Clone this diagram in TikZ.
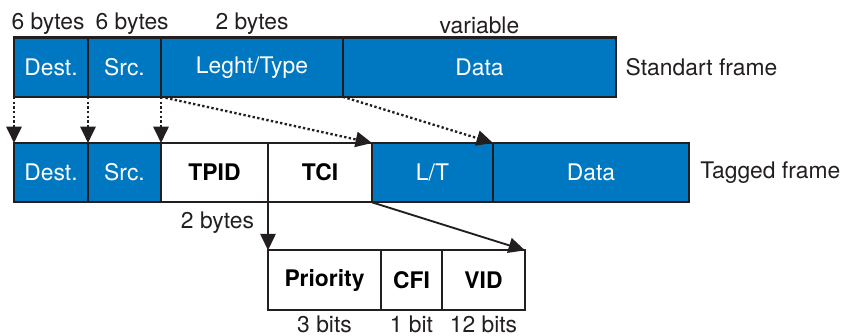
\documentclass[tikz,border=0pt]{standalone}
\usepackage{fontspec}
\setmainfont{TeX Gyre Heros}
\usetikzlibrary{positioning,arrows.meta}
\definecolor{framecol}{RGB}{0,120,193}
\definecolor{linecol}{RGB}{35,31,32}

\tikzset{
    cell/.style={draw=linecol, line width=1.8pt, outer sep=0pt, inner sep=0pt,
        minimum height=1.78cm, font=\fontsize{19.5}{22}\selectfont},
    bluecell/.style={cell, fill=framecol, text=white},
    tagcell/.style={cell, fill=white, font=\fontsize{19.5}{22}\selectfont\bfseries},
    sizelabel/.style={font=\fontsize{19.5}{22}\selectfont, text=linecol, inner sep=1pt},
    copyarrow/.style={draw=linecol, line width=2pt, dash pattern=on 2pt off 2pt,
        -{Triangle[length=14pt, width=13pt]}},
    splitarrow/.style={draw=linecol, line width=1.6pt, -{Triangle[length=14pt, width=13pt]}},
}

\begin{document}
\begin{tikzpicture}
    \useasboundingbox (0,0) rectangle (25.59,-10.08);

    % Standard frame
    \node[bluecell, minimum width=2.22cm, anchor=north west] (sdest) at (0.42,-1.125) {Dest.};
    \node[bluecell, minimum width=2.19cm, right=0pt of sdest] (ssrc) {Src.};
    \node[bluecell, minimum width=5.46cm, right=0pt of ssrc] (slen) {Leght/Type};
    \node[bluecell, minimum width=8.19cm, right=0pt of slen] (sdata) {Data};
    \node[sizelabel, right=0.25cm of sdata] (sname) {Standart frame};

    % sizes of the standard fields
    \node[sizelabel, above=0.06cm of sdest, xshift=-0.09cm] (bdest) {6 bytes};
    \node[sizelabel, above=0.06cm of ssrc, xshift=0.23cm] (bsrc) {6 bytes};
    \node[sizelabel, above=0.06cm of slen] (blen) {2 bytes};
    \node[sizelabel, above=0.06cm of sdata] (bdata) {variable};

    % Tagged frame
    \node[bluecell, minimum width=2.22cm, anchor=north west] (tdest) at (0.42,-4.29) {Dest.};
    \node[bluecell, minimum width=2.19cm, right=0pt of tdest] (tsrc) {Src.};
    \node[tagcell, minimum width=3.21cm, right=0pt of tsrc] (ttpid) {TPID};
    \node[tagcell, minimum width=3.12cm, right=0pt of ttpid] (ttci) {TCI};
    \node[bluecell, minimum width=3.63cm, right=0pt of ttci] (tlt) {L/T};
    \node[bluecell, minimum width=5.88cm, right=0pt of tlt] (tdata) {Data};
    \node[sizelabel, right=0.3cm of tdata] (tname) {Tagged frame};

    % TCI fields
    \node[tagcell, minimum width=3.39cm, anchor=north west] (prio) at ([yshift=-1.44cm]ttci.south west) {Priority};
    \node[tagcell, minimum width=1.83cm, right=0pt of prio] (cfi) {CFI};
    \node[tagcell, minimum width=2.49cm, right=0pt of cfi] (vid) {VID};

    \node[sizelabel, anchor=east] (btci) at ([xshift=-0.38cm, yshift=-0.6cm]ttci.south west) {2 bytes};
    \node[sizelabel, below=0.14cm of prio] (bprio) {3 bits};
    \node[sizelabel, below=0.14cm of cfi] (bcfi) {1 bit};
    \node[sizelabel, below=0.14cm of vid] (bvid) {12 bits};

    % Fields copied into the tagged frame
    \draw[copyarrow] (sdest.south west) -- (tdest.north west);
    \draw[copyarrow] (ssrc.south west) -- (tsrc.north west);
    \draw[copyarrow] (slen.south west) -- (ttpid.north west);
    \draw[copyarrow] (slen.south west) -- (tlt.north west);
    \draw[copyarrow] (sdata.south west) -- (tdata.north west);

    % TCI split into its fields
    \draw[splitarrow] (ttci.south west) -- (prio.north west);
    \draw[splitarrow] (ttci.south east) -- (vid.north east);

\end{tikzpicture}
\end{document}
